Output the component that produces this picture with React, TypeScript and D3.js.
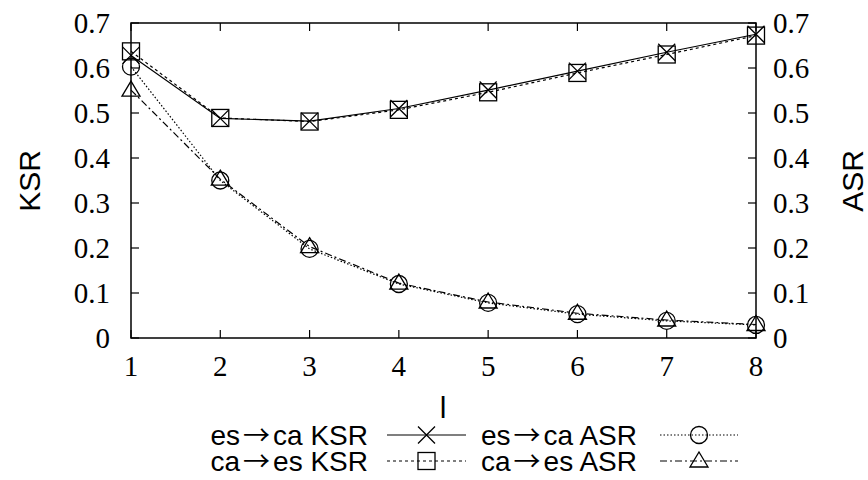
import React from "react";
import * as d3 from "d3";

const xValues = [1, 2, 3, 4, 5, 6, 7, 8];
const esCaKSR = [0.628, 0.488, 0.482, 0.51, 0.551, 0.593, 0.635, 0.675];
const caEsKSR = [0.637, 0.489, 0.481, 0.507, 0.546, 0.589, 0.63, 0.672];
const esCaASR = [0.603, 0.35, 0.198, 0.12, 0.078, 0.053, 0.038, 0.029];
const caEsASR = [0.551, 0.353, 0.203, 0.122, 0.08, 0.055, 0.04, 0.03];
const yTicks = [0, 0.1, 0.2, 0.3, 0.4, 0.5, 0.6, 0.7];
const yTickLabels = ["0", "0.1", "0.2", "0.3", "0.4", "0.5", "0.6", "0.7"];

type Marker = "x" | "square" | "circle" | "triangle";
const series: { src: string; dst: string; metric: string; values: number[]; dash: string; marker: Marker }[] = [
  { src: "es", dst: "ca", metric: "KSR", values: esCaKSR, dash: "none", marker: "x" },
  { src: "es", dst: "ca", metric: "ASR", values: esCaASR, dash: "1.5,2", marker: "circle" },
  { src: "ca", dst: "es", metric: "KSR", values: caEsKSR, dash: "3,3", marker: "square" },
  { src: "ca", dst: "es", metric: "ASR", values: caEsASR, dash: "7,3,2,3", marker: "triangle" },
];

const W = 868, H = 480;
const L = 131, R = 756, T = 23, B = 338;

function MarkerShape({ type, cx, cy }: { type: Marker; cx: number; cy: number }) {
  const s = 8.5;
  const common = { fill: "none", stroke: "#000", strokeWidth: 1.3 };
  if (type === "x")
    return <path d={`M${cx - s},${cy - s}L${cx + s},${cy + s}M${cx - s},${cy + s}L${cx + s},${cy - s}`} {...common} />;
  if (type === "square") return <rect x={cx - s} y={cy - s} width={2 * s} height={2 * s} {...common} />;
  if (type === "circle") return <circle cx={cx} cy={cy} r={s} {...common} />;
  return <path d={`M${cx},${cy - 9}L${cx + 9},${cy + 6}L${cx - 9},${cy + 6}Z`} {...common} />;
}

export default function App() {
  const x = d3.scaleLinear().domain([1, 8]).range([L, R]);
  const y = d3.scaleLinear().domain([0, 0.7]).range([B, T]);
  const line = d3
    .line<number>()
    .x((_, i) => x(xValues[i]))
    .y((d) => y(d));
  const serif = "'Liberation Serif', 'Times New Roman', serif";
  const sans = "'Liberation Sans', Arial, sans-serif";
  const tl = 8;

  const legendRows = [
    { y: 435, items: [series[0], series[1]] },
    { y: 461, items: [series[2], series[3]] },
  ];
  const legendCols = [
    { textEnd: 368, s0: 387, s1: 466 },
    { textEnd: 637, s0: 660, s1: 738 },
  ];

  return (
    <svg width={W} height={H} style={{ position: "absolute", left: 0, top: 0, background: "#fff" }}>
      <rect x={0} y={0} width={W} height={H} fill="#fff" />
      {/* ticks */}
      {yTicks.map((t, i) => (
        <g key={"y" + i}>
          <line x1={L} x2={L + tl} y1={y(t)} y2={y(t)} stroke="#000" strokeWidth={1.2} />
          <line x1={R} x2={R - tl} y1={y(t)} y2={y(t)} stroke="#000" strokeWidth={1.2} />
          <text x={110} y={y(t)} dy="0.35em" textAnchor="end" fontFamily={serif} fontSize={29}>
            {yTickLabels[i]}
          </text>
          <text x={773} y={y(t)} dy="0.35em" textAnchor="start" fontFamily={serif} fontSize={29}>
            {yTickLabels[i]}
          </text>
        </g>
      ))}
      {xValues.map((v) => (
        <g key={"x" + v}>
          <line x1={x(v)} x2={x(v)} y1={B} y2={B - tl} stroke="#000" strokeWidth={1.2} />
          <line x1={x(v)} x2={x(v)} y1={T} y2={T + tl} stroke="#000" strokeWidth={1.2} />
          <text x={x(v)} y={376} textAnchor="middle" fontFamily={serif} fontSize={29}>
            {v}
          </text>
        </g>
      ))}
      <rect x={L} y={T} width={R - L} height={B - T} fill="none" stroke="#000" strokeWidth={1.5} />
      {/* axis labels */}
      <text transform={`translate(40,181) rotate(-90)`} textAnchor="middle" fontFamily={sans} fontSize={30}>
        KSR
      </text>
      <text transform={`translate(863,181) rotate(-90)`} textAnchor="middle" fontFamily={sans} fontSize={30}>
        ASR
      </text>
      <text x={443} y={418} textAnchor="middle" fontFamily={sans} fontSize={30}>
        l
      </text>
      {/* series */}
      {series.map((s) => (
        <g key={s.src + s.metric}>
          <path d={line(s.values) || ""} fill="none" stroke="#000" strokeWidth={1.2} strokeDasharray={s.dash} />
          {s.values.map((v, i) => (
            <MarkerShape key={i} type={s.marker} cx={x(xValues[i])} cy={y(v)} />
          ))}
        </g>
      ))}
      {/* legend */}
      {legendRows.map((row, ri) =>
        row.items.map((s, ci) => {
          const c = legendCols[ci];
          return (
            <g key={ri + "-" + ci}>
              <text x={c.textEnd} y={row.y + 10} textAnchor="end" fontFamily={sans} fontSize={28}>
                <tspan>{s.src}</tspan>
                <tspan fontFamily="'Noto Sans CJK JP', 'DejaVu Sans', sans-serif" fontSize={27} dx={3}>
                  →
                </tspan>
                <tspan dx={3}>{s.dst + " " + s.metric}</tspan>
              </text>
              <line x1={c.s0} x2={c.s1} y1={row.y} y2={row.y} stroke="#000" strokeWidth={1.2} strokeDasharray={s.dash} />
              <MarkerShape type={s.marker} cx={(c.s0 + c.s1) / 2} cy={row.y} />
            </g>
          );
        })
      )}
    </svg>
  );
}
